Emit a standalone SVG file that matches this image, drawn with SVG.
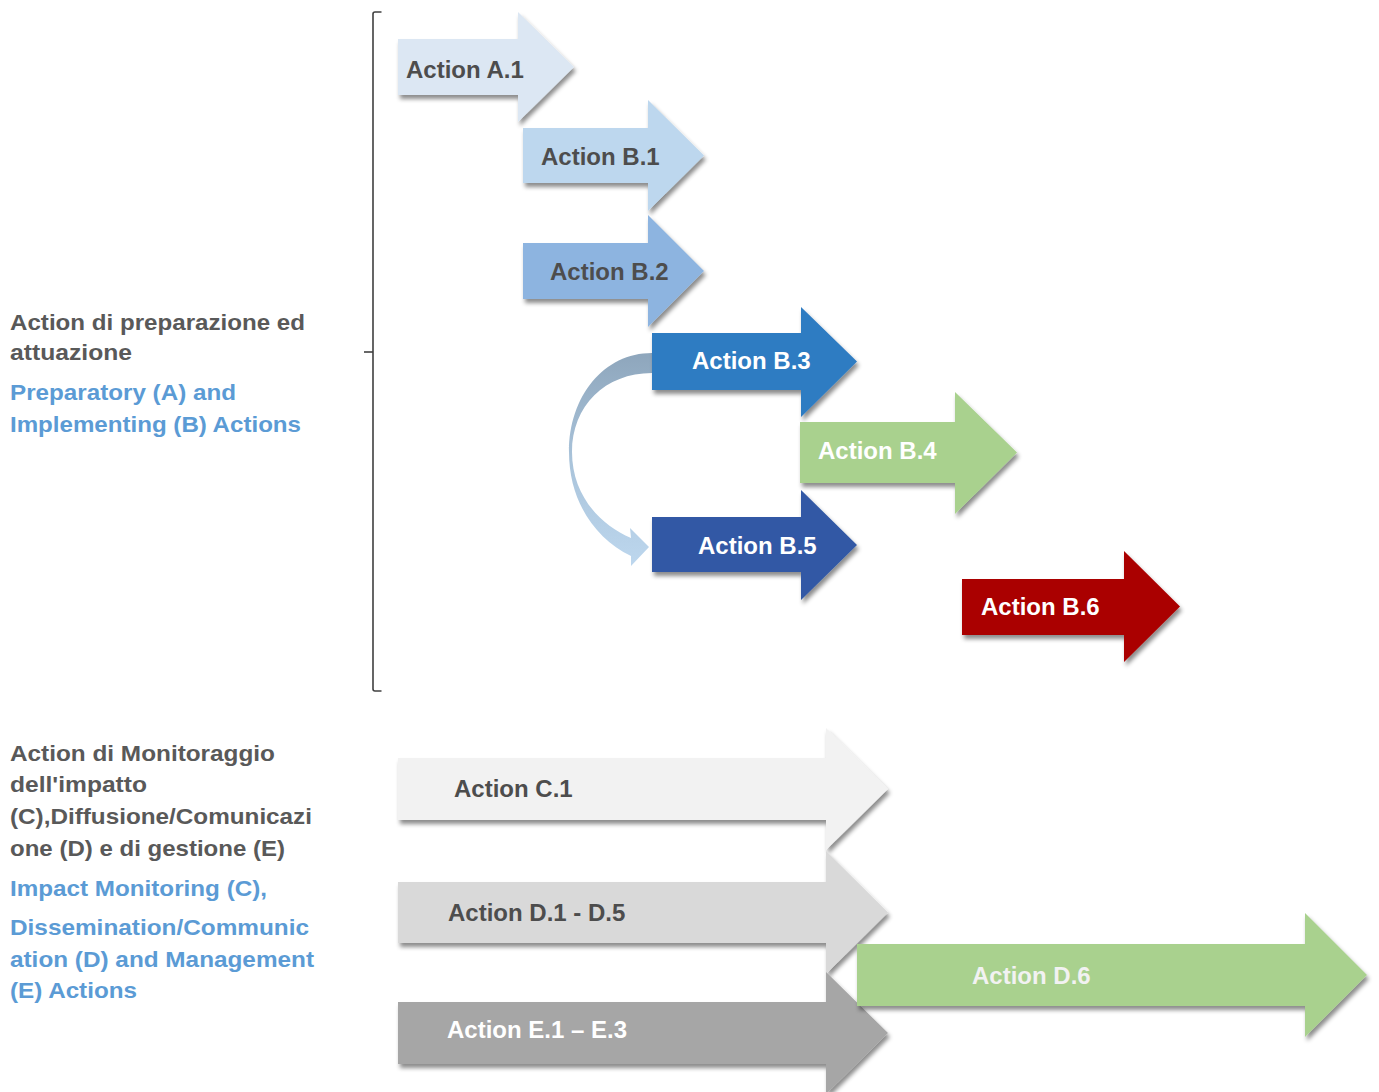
<svg xmlns="http://www.w3.org/2000/svg" width="1379" height="1092" viewBox="0 0 1379 1092">
<defs>
<filter id="sh" x="-10%" y="-20%" width="125%" height="150%">
<feDropShadow dx="2" dy="4" stdDeviation="2.2" flood-color="#000" flood-opacity="0.45"/>
</filter>
<linearGradient id="cg" x1="0" y1="0" x2="0" y2="1">
<stop offset="0" stop-color="#8EA6BC"/>
<stop offset="0.5" stop-color="#A9C3DA"/>
<stop offset="1" stop-color="#BDD7EE"/>
</linearGradient>
</defs>
<style>
text{font-family:"Liberation Sans",Arial,sans-serif;font-weight:bold}
.lbl{font-size:24px}
.dk{fill:#4D4D4D}
.wh{fill:#FFFFFF}
.side{font-size:22px}
.g{fill:#595959}
.b{fill:#5B9BD5}
.arr{filter:url(#sh)}
</style>
<rect width="1379" height="1092" fill="#FFFFFF"/>

<g id="bracket" fill="none" stroke="#404040" stroke-width="1.6">
<path d="M381.5 12 L375 12 Q373 12 373 14 L373 689 Q373 691 375 691 L381.5 691"/>
<path d="M364 352 L373 352"/>
</g>

<g id="legend-top">
<text class="side g" x="10" y="330" textLength="295" lengthAdjust="spacingAndGlyphs">Action di preparazione ed</text>
<text class="side g" x="10" y="360" textLength="122" lengthAdjust="spacingAndGlyphs">attuazione</text>
<text class="side b" x="10" y="400" textLength="226" lengthAdjust="spacingAndGlyphs">Preparatory (A) and</text>
<text class="side b" x="10" y="432" textLength="291" lengthAdjust="spacingAndGlyphs">Implementing (B) Actions</text>
</g>

<g id="legend-bottom">
<text class="side g" x="10" y="761" textLength="265" lengthAdjust="spacingAndGlyphs">Action di Monitoraggio</text>
<text class="side g" x="10" y="792" textLength="137" lengthAdjust="spacingAndGlyphs">dell'impatto</text>
<text class="side g" x="10" y="824" textLength="302" lengthAdjust="spacingAndGlyphs">(C),Diffusione/Comunicazi</text>
<text class="side g" x="10" y="856" textLength="275" lengthAdjust="spacingAndGlyphs">one (D) e di gestione (E)</text>
<text class="side b" x="10" y="896" textLength="257" lengthAdjust="spacingAndGlyphs">Impact Monitoring (C),</text>
<text class="side b" x="10" y="935" textLength="299" lengthAdjust="spacingAndGlyphs">Dissemination/Communic</text>
<text class="side b" x="10" y="967" textLength="304" lengthAdjust="spacingAndGlyphs">ation (D) and Management</text>
<text class="side b" x="10" y="998" textLength="127" lengthAdjust="spacingAndGlyphs">(E) Actions</text>
</g>

<g id="connectors">
<path d="M660 353 L652 353 C604 353 569 396 569 452 C569 500 594 538 631 556 L631 566 L649 547 L630 528 L631 538 C600 525 572 495 572 452 C572 406 605 373 652 373 L660 373 Z" fill="url(#cg)"/>
</g>

<g id="A1">
<polygon class="arr" fill="#DCE7F3" points="398,39 518,39 518,12 574,67 518,122 518,95 398,95"/>
<text class="lbl dk" x="406" y="78">Action A.1</text>
</g>
<g id="B1">
<polygon class="arr" fill="#BDD7EE" points="523,128 648,128 648,100 704,155.5 648,211 648,183 523,183"/>
<text class="lbl dk" x="541" y="165">Action B.1</text>
</g>
<g id="B2">
<polygon class="arr" fill="#8DB4E0" points="523,243 648,243 648,215 704,271 648,327 648,299 523,299"/>
<text class="lbl dk" x="550" y="280">Action B.2</text>
</g>
<g id="B3">
<polygon class="arr" fill="#2E7BC2" points="652,333 801,333 801,307 857,361.5 801,417 801,390 652,390"/>
<text class="lbl wh" x="692" y="369">Action B.3</text>
</g>
<g id="B4">
<polygon class="arr" fill="#A9D18E" points="800,422 955,422 955,392 1017,452.5 955,514 955,483 800,483"/>
<text class="lbl wh" x="818" y="459">Action B.4</text>
</g>
<g id="B5">
<polygon class="arr" fill="#3159A5" points="652,517 801,517 801,490 857,545 801,600 801,572 652,572"/>
<text class="lbl wh" x="698" y="554">Action B.5</text>
</g>
<g id="B6">
<polygon class="arr" fill="#AA0000" points="962,579 1124,579 1124,551 1180,606.5 1124,662 1124,635 962,635"/>
<text class="lbl wh" x="981" y="615">Action B.6</text>
</g>

<g id="C1">
<polygon class="arr" fill="#F2F2F2" points="398,758 826,758 826,728 888,789 826,850 826,820 398,820"/>
<text class="lbl dk" x="454" y="797">Action C.1</text>
</g>
<g id="D1-D5">
<polygon class="arr" fill="#D9D9D9" points="398,882 826,882 826,851 888,912.5 826,974 826,943 398,943"/>
<text class="lbl dk" x="448" y="921">Action D.1 - D.5</text>
</g>
<g id="E1-E3">
<polygon class="arr" fill="#A6A6A6" points="398,1002 826,1002 826,972 888,1033 826,1094 826,1064 398,1064"/>
<text class="lbl wh" x="447" y="1038">Action E.1 – E.3</text>
</g>
<g id="D6">
<polygon class="arr" fill="#A9D18E" points="857,944 1305,944 1305,913 1367,975 1305,1037 1305,1006 857,1006"/>
<text class="lbl" fill="#F2F2F2" x="972" y="984">Action D.6</text>
</g>
</svg>
